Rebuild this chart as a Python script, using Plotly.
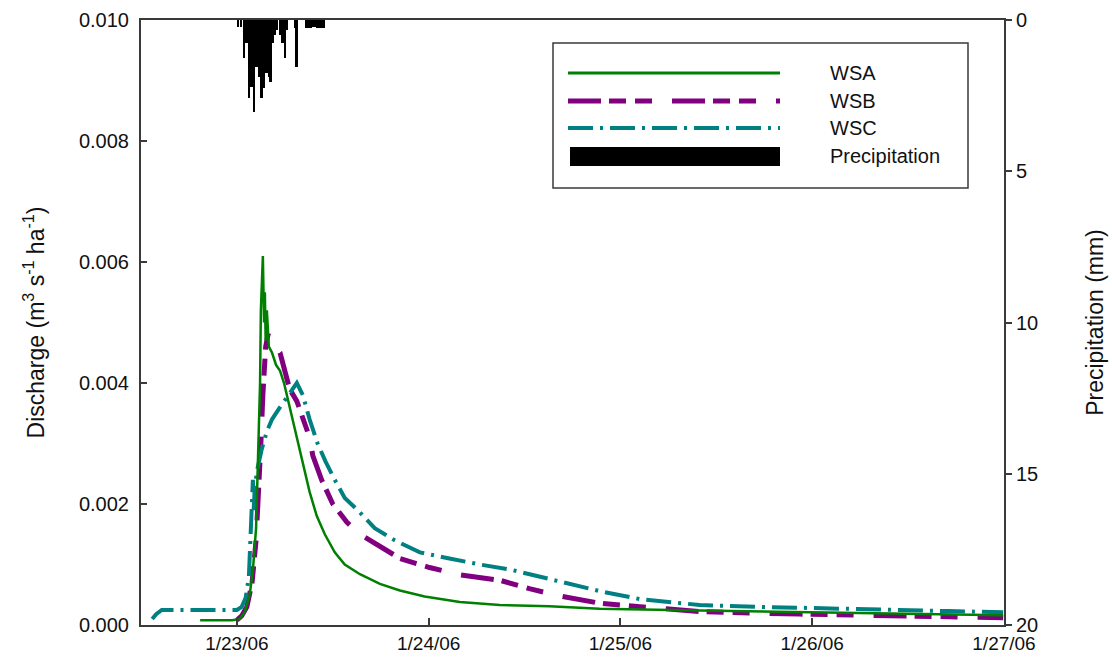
import pandas as pd
import plotly.graph_objects as go

START = pd.Timestamp("2006-01-23 00:00")

# Discharge series, time in hours after midnight 1/23/06, discharge in m3 s-1 ha-1
wsa_hours = [-4.6, -0.6, 0.4, 1.0, 1.6, 2.0, 2.4, 2.6, 2.9, 3.0, 3.1, 3.25, 3.4, 3.5, 3.6, 3.75,
             4.0, 4.4, 4.9, 5.4, 5.9, 6.6, 7.5, 8.4, 9.1, 10.0, 11.0, 12.25, 13.5, 15.4, 17.9,
             20.4, 23.5, 27.9, 32.9, 39.1, 45.4, 57.9, 70.4, 82.9, 95.9]
wsa_q = [0.00008, 0.00008, 0.00010, 0.00022, 0.00050, 0.00090, 0.0016, 0.0026, 0.0040, 0.0052,
         0.0057, 0.0061, 0.0050, 0.0055, 0.0047, 0.0052, 0.0046, 0.0045, 0.0043, 0.0042,
         0.0040, 0.0036, 0.0031, 0.0026, 0.0022, 0.0018, 0.0015, 0.0012, 0.0010, 0.00084,
         0.00068, 0.00057, 0.00047, 0.00038, 0.00033, 0.00031, 0.00027, 0.00024, 0.00021,
         0.00019, 0.00016]

wsb_hours = [0, 0.6, 1.25, 1.9, 2.4, 2.75, 3.0, 3.25, 3.4, 3.6, 3.9, 4.25, 4.75, 5.4, 6.0, 6.6,
             7.5, 9.1, 9.5, 10.6, 12.0, 13.75, 15.4, 17.9, 20.4, 24.1, 27.9, 32.9, 36.6, 40.4,
             45.4, 51.6, 57.9, 70.4, 82.9, 95.9]
wsb_q = [0.00008, 0.00015, 0.00030, 0.0007, 0.0014, 0.0022, 0.0030, 0.0038, 0.0043, 0.0046,
         0.0048, 0.0047, 0.0046, 0.0045, 0.0042, 0.0039, 0.0037, 0.0031, 0.0028, 0.0024,
         0.0020, 0.0017, 0.0015, 0.0013, 0.0011, 0.00095, 0.00083, 0.00074, 0.00060, 0.00048,
         0.00036, 0.00029, 0.00022, 0.00018, 0.00015, 0.00012]

wsc_hours = [-10.6, -10.1, -9.4, -4.6, 0, 0.6, 1.1, 1.5, 1.75, 1.9, 2.0, 2.1, 2.25, 2.6, 3.1,
             3.75, 4.4, 5.4, 6.4, 7.5, 8.25, 9.1, 10.1, 11.1, 12.25, 13.5, 15.1, 17.25, 19.75,
             22.9, 26.6, 30.4, 34.1, 37.9, 41.6, 45.4, 50.4, 57.9, 65.4, 76.6, 89.1, 95.9]
wsc_q = [0.00010, 0.00018, 0.00025, 0.00025, 0.00025, 0.00030, 0.00045, 0.0008, 0.0015, 0.0020,
         0.0024, 0.0019, 0.0023, 0.0026, 0.0029, 0.0032, 0.0034, 0.0036, 0.0038, 0.0040,
         0.0038, 0.0034, 0.0030, 0.0027, 0.0024, 0.0021, 0.0019, 0.0016, 0.0014, 0.0012,
         0.0011, 0.0010, 0.00092, 0.00080, 0.00068, 0.00056, 0.00043, 0.00033, 0.00030,
         0.00026, 0.00023, 0.00021]

# Precipitation totals (mm) per logging interval
rain_hours = [0.125, 0.5, 0.875, 1.2, 1.5, 1.85, 2.125, 2.45, 2.75, 3.1, 3.375, 3.7, 4.0, 4.2,
              4.45, 4.75, 5.05, 5.375, 5.7, 6.0, 6.3, 7.25, 7.45, 8.7, 8.95, 9.2, 9.5, 9.75,
              10.0, 10.25, 10.6, 10.9]
rain_mm = [0.24, 0.22, 1.27, 0.77, 2.59, 2.2, 3.03, 1.54, 1.87, 2.59, 2.25, 1.75, 1.87, 2.04,
           0.77, 0.5, 0.33, 0.5, 0.77, 1.27, 0.33, 0.28, 1.54, 0.25, 0.28, 0.25, 0.22, 0.22,
           0.25, 0.25, 0.25, 0.25]

tick_days = ["2006-01-23", "2006-01-24", "2006-01-25", "2006-01-26", "2006-01-27"]
tick_labels = ["1/23/06", "1/24/06", "1/25/06", "1/26/06", "1/27/06"]
q_ticks = [0.0, 0.002, 0.004, 0.006, 0.008, 0.010]
p_ticks = [0, 5, 10, 15, 20]


def to_time(hours):
    return [START + pd.Timedelta(hours=h) for h in hours]


GREEN = "#008000"
PURPLE = "#800080"
TEAL = "#008080"
AXIS = "#3a3a3a"
FONT = "Liberation Sans, Arial, sans-serif"

WSB_DASH = "33px,8px,17px,9px,17px,20px"
WSC_DASH = "25px,7px,3px,7px"

fig = go.Figure()

fig.add_trace(go.Bar(
    x=to_time(rain_hours), y=rain_mm, yaxis="y2",
    width=18 * 60 * 1000, marker=dict(color="black", line=dict(width=0)),
    name="Precipitation", showlegend=False,
))
fig.add_trace(go.Scatter(
    x=to_time(wsb_hours), y=wsb_q, mode="lines", name="WSB",
    line=dict(color=PURPLE, width=5, dash=WSB_DASH), showlegend=False,
))
fig.add_trace(go.Scatter(
    x=to_time(wsc_hours), y=wsc_q, mode="lines", name="WSC",
    line=dict(color=TEAL, width=4, dash=WSC_DASH), showlegend=False,
))
fig.add_trace(go.Scatter(
    x=to_time(wsa_hours), y=wsa_q, mode="lines", name="WSA",
    line=dict(color=GREEN, width=2.5), showlegend=False,
))

# plot-area edges in pixels, used to place the hand-drawn key
L, R, T, B = 141, 1004, 20, 625


def px(x):
    return (x - L) / (R - L)


def py(y):
    return (B - y) / (B - T)


shapes = [
    dict(type="rect", xref="paper", yref="paper", x0=px(553), x1=px(968), y0=py(43), y1=py(188),
         line=dict(color=AXIS, width=1.5), fillcolor="white", layer="above"),
    dict(type="line", xref="paper", yref="paper", x0=px(568), x1=px(780), y0=py(73), y1=py(73),
         line=dict(color=GREEN, width=3), layer="above"),
    dict(type="line", xref="paper", yref="paper", x0=px(568), x1=px(780), y0=py(101), y1=py(101),
         line=dict(color=PURPLE, width=5, dash=WSB_DASH), layer="above"),
    dict(type="line", xref="paper", yref="paper", x0=px(568), x1=px(780), y0=py(128), y1=py(128),
         line=dict(color=TEAL, width=4, dash=WSC_DASH), layer="above"),
    dict(type="rect", xref="paper", yref="paper", x0=px(570), x1=px(780), y0=py(147), y1=py(166),
         line=dict(width=0), fillcolor="black", layer="above"),
]

annotations = []
for label, y in [("WSA", 73), ("WSB", 101), ("WSC", 128), ("Precipitation", 156)]:
    annotations.append(dict(
        text=label, xref="paper", yref="paper", x=px(828), y=py(y),
        xanchor="left", yanchor="middle", showarrow=False,
        font=dict(family=FONT, size=20, color="#111"),
    ))

fig.update_layout(
    width=1112, height=663,
    margin=dict(l=L, r=1112 - R, t=T, b=663 - B, autoexpand=False),
    paper_bgcolor="white", plot_bgcolor="white",
    font=dict(family=FONT, size=19, color="#111"),
    showlegend=False,
    bargap=0,
    shapes=shapes,
    annotations=annotations,
    xaxis=dict(
        type="date",
        range=[START - pd.Timedelta(hours=12), START + pd.Timedelta(hours=96)],
        tickvals=tick_days, ticktext=tick_labels,
        ticks="inside", ticklen=7, tickwidth=1.5, tickcolor=AXIS,
        showline=True, linecolor=AXIS, linewidth=2, mirror=True,
        showgrid=False, zeroline=False,
        tickfont=dict(size=19),
    ),
    yaxis=dict(
        range=[0, 0.010], tickvals=q_ticks, tickformat=".3f",
        ticks="inside", ticklen=6, tickwidth=1.5, tickcolor=AXIS,
        showline=True, linecolor=AXIS, linewidth=2,
        showgrid=False, zeroline=False,
        ticklabelstandoff=6,
        tickfont=dict(size=20),
        title=dict(text="Discharge (m<sup>3</sup> s<sup>-1</sup> ha<sup>-1</sup>)",
                   font=dict(size=23), standoff=28),
    ),
    yaxis2=dict(
        overlaying="y", side="right", range=[20, 0], tickvals=p_ticks,
        ticks="outside", ticklen=6, tickwidth=1.5, tickcolor=AXIS,
        showline=True, linecolor=AXIS, linewidth=2,
        showgrid=False, zeroline=False,
        tickfont=dict(size=20),
        title=dict(text="Precipitation (mm)", font=dict(size=23), standoff=50),
    ),
)

fig.write_html("out.html")
